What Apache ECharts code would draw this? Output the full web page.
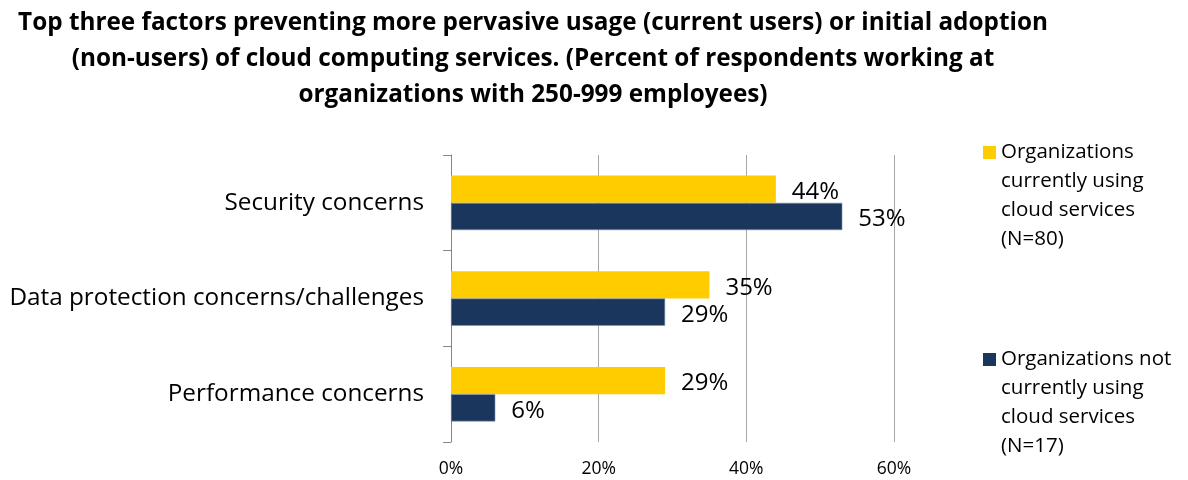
<!DOCTYPE html>
<html><head><meta charset="utf-8">
<script src="https://cdn.jsdelivr.net/npm/echarts@6/dist/echarts.min.js"></script>
<style>html,body{margin:0;padding:0;background:#fff}#c{width:1188px;height:480px}</style>
</head><body><div id="c"></div>
<script>
const titleText = 'Top three factors preventing more pervasive usage (current users) or initial adoption\n(non-users) of cloud computing services. (Percent of respondents working at\norganizations with 250-999 employees)';
const categories = ['Security concerns', 'Data protection concerns/challenges', 'Performance concerns'];
const seriesNames = ['Organizations\ncurrently using\ncloud services\n(N=80)', 'Organizations not\ncurrently using\ncloud services\n(N=17)'];
const usersValues = [44, 35, 29];
const nonUsersValues = [53, 29, 6];
const xTicks = [0, 20, 40, 60];
const colors = ['#FFCC00', '#1B365D'];

const FONT = 'Open Sans';
const chart = echarts.init(document.getElementById('c'));
const legendText = {fontFamily: FONT, fontSize: 20.5, color: '#000', lineHeight: 29};
const legendBase = {orient: 'vertical', left: 983, padding: 0, itemWidth: 13, itemHeight: 13, itemGap: 0, icon: 'rect', textStyle: legendText,
  itemStyle: {borderWidth: 0}, formatter: name => '\n\n\n' + name};
chart.setOption({
  animation: false,
  textStyle: {fontFamily: FONT},
  title: {
    text: titleText, left: 533, top: 5, padding: 0,
    textStyle: {fontFamily: FONT, fontWeight: 'bold', fontSize: 24.3, lineHeight: 36, color: '#000'},
    textAlign: 'center'
  },
  legend: [
    Object.assign({data: [seriesNames[0]], top: 51}, legendBase),
    Object.assign({data: [seriesNames[1]], top: 258}, legendBase)
  ],
  grid: {left: 451, right: 294, top: 155, bottom: 38, containLabel: false},
  xAxis: {
    type: 'value', min: xTicks[0], max: xTicks[xTicks.length - 1], interval: 20,
    axisLine: {show: false}, axisTick: {show: false},
    splitLine: {lineStyle: {color: '#A6A6A6', width: 1}},
    axisLabel: {formatter: v => v + '%', fontSize: 17.5, color: '#000', margin: 18, fontFamily: FONT}
  },
  yAxis: {
    type: 'category', data: categories, inverse: true,
    axisLine: {lineStyle: {color: '#868686', width: 1}},
    axisTick: {show: true, length: 8, lineStyle: {color: '#868686'}},
    axisLabel: {fontSize: 24.3, color: '#000', margin: 27, fontFamily: FONT}
  },
  series: [
    {name: seriesNames[0], type: 'bar', data: usersValues, barGap: '0%', barCategoryGap: '43%',
     itemStyle: {color: colors[0]},
     label: {show: true, position: 'right', distance: 16, formatter: p => p.value + '%', fontSize: 24, color: '#000', fontFamily: FONT, offset: [0, 3]}},
    {name: seriesNames[1], type: 'bar', data: nonUsersValues, barGap: '0%', barCategoryGap: '43%',
     itemStyle: {color: colors[1], borderColor: '#7F93AD', borderWidth: 0.6},
     label: {show: true, position: 'right', distance: 16, formatter: p => p.value + '%', fontSize: 24, color: '#000', fontFamily: FONT, offset: [0, 3]}}
  ]
});
</script></body></html>
